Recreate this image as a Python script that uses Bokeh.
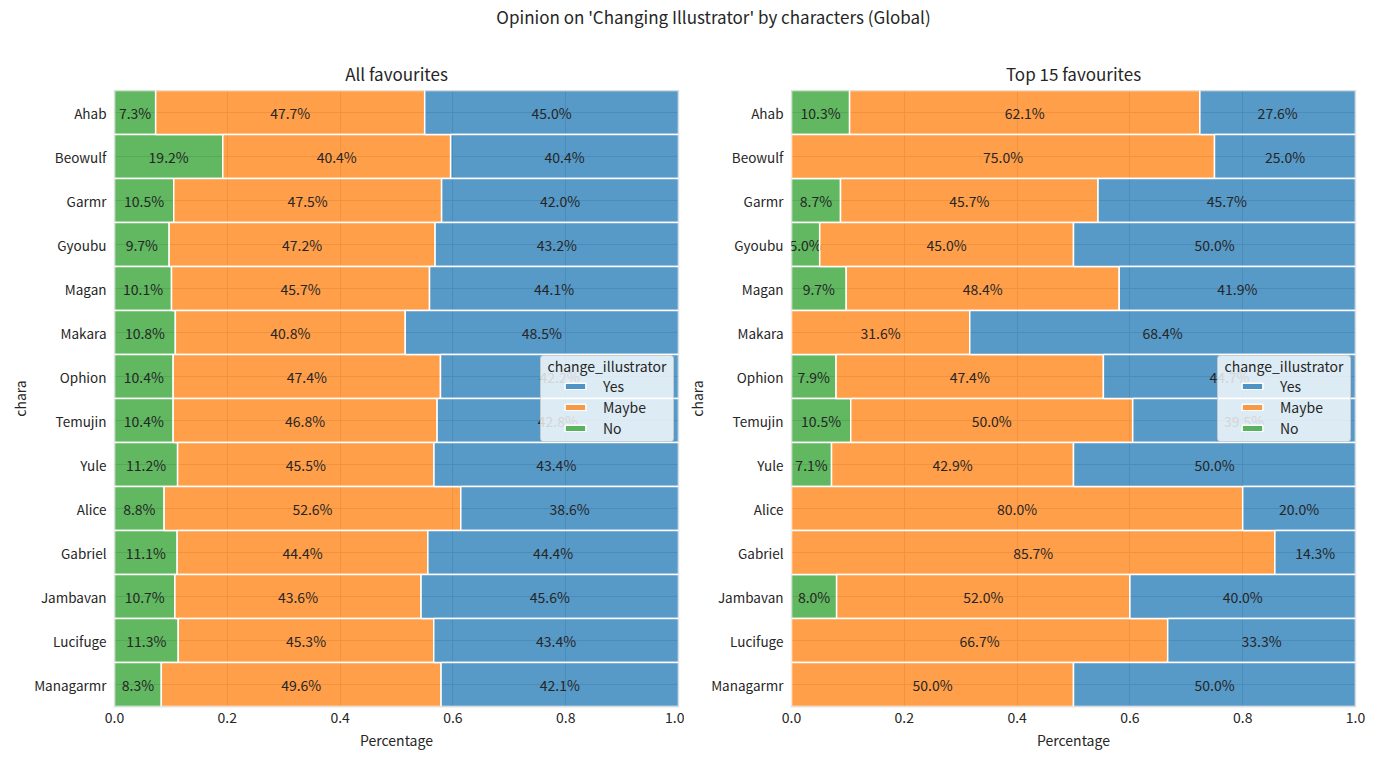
from bokeh.plotting import figure
from bokeh.models import (Div, Legend, LegendItem, ColumnDataSource, FactorRange,
                          SingleIntervalTicker, CustomJSTickFormatter, Label, BoxAnnotation)
from bokeh.layouts import column, row
from bokeh.embed import file_html
from bokeh.resources import INLINE
from bokeh.core.properties import value

charas = ["Ahab", "Beowulf", "Garmr", "Gyoubu", "Magan", "Makara", "Ophion", "Temujin",
          "Yule", "Alice", "Gabriel", "Jambavan", "Lucifuge", "Managarmr"]

all_no = [7.3, 19.2, 10.5, 9.7, 10.1, 10.8, 10.4, 10.4, 11.2, 8.8, 11.1, 10.7, 11.3, 8.3]
all_maybe = [47.7, 40.4, 47.5, 47.2, 45.7, 40.8, 47.4, 46.8, 45.5, 52.6, 44.4, 43.6, 45.3, 49.6]
all_yes = [45.0, 40.4, 42.0, 43.2, 44.1, 48.5, 42.2, 42.8, 43.4, 38.6, 44.4, 45.6, 43.4, 42.1]

top_no = [10.3, 0.0, 8.7, 5.0, 9.7, 0.0, 7.9, 10.5, 7.1, 0.0, 0.0, 8.0, 0.0, 0.0]
top_maybe = [62.1, 75.0, 45.7, 45.0, 48.4, 31.6, 47.4, 50.0, 42.9, 80.0, 85.7, 52.0, 66.7, 50.0]
top_yes = [27.6, 25.0, 45.7, 50.0, 41.9, 68.4, 44.7, 39.5, 50.0, 20.0, 14.3, 40.0, 33.3, 50.0]

legend_labels = ["Yes", "Maybe", "No"]

FONT = "Noto Sans CJK JP"
TXT = "#262626"
COLORS = {"Yes": "#1f77b4", "Maybe": "#ff7f0e", "No": "#2ca02c"}


def make_panel(title, no, maybe, yes, left_border, right_border):
    p = figure(y_range=FactorRange(*reversed(charas)), x_range=(0, 1),
               frame_width=564, frame_height=616, output_backend="svg", toolbar_location=None,
               min_border_left=left_border, min_border_right=right_border,
               min_border_top=52, min_border_bottom=50, title=title)
    p.y_range.range_padding = 0
    p.title.text_font = FONT
    p.title.text_font_size = "17px"
    p.title.text_font_style = "normal"
    p.title.text_color = TXT
    p.title.align = "center"

    tot = [a + b + c for a, b, c in zip(no, maybe, yes)]
    n = [a / t for a, t in zip(no, tot)]
    m = [b / t for b, t in zip(maybe, tot)]
    y = [c / t for c, t in zip(yes, tot)]
    l0 = [0.0] * len(charas)
    l1 = n
    l2 = [a + b for a, b in zip(n, m)]
    r2 = [a + b for a, b in zip(l2, y)]

    renderers = {}
    for key, left, right, vals in [("No", l0, l1, no), ("Maybe", l1, l2, maybe), ("Yes", l2, r2, yes)]:
        src = ColumnDataSource(dict(chara=charas, left=left, right=right,
                                    mid=[(a + b) / 2 for a, b in zip(left, right)],
                                    lab=["%.1f%%" % v if v > 0 else "" for v in vals]))
        renderers[key] = p.hbar(y="chara", left="left", right="right", height=1.0, source=src,
                                fill_color=COLORS[key], fill_alpha=0.75,
                                line_color="white", line_width=1.5)
        p.text(x="mid", y="chara", text="lab", source=src, text_align="center",
               text_baseline="middle", text_font=value(FONT), text_font_size="14px",
               text_color=TXT)

    p.xaxis.ticker = SingleIntervalTicker(interval=0.2)
    p.xaxis.formatter = CustomJSTickFormatter(code="return tick.toFixed(1);")
    for ax in (p.xaxis[0], p.yaxis[0]):
        ax.axis_line_color = None
        ax.major_tick_line_color = None
        ax.minor_tick_line_color = None
        ax.major_tick_out = 0
        ax.major_tick_in = 0
        ax.minor_tick_out = 0
        ax.minor_tick_in = 0
        ax.major_label_text_font = FONT
        ax.major_label_text_font_size = "14px"
        ax.major_label_text_color = TXT
        ax.axis_label_text_font = FONT
        ax.axis_label_text_font_size = "14px"
        ax.axis_label_text_font_style = "normal"
        ax.axis_label_text_color = TXT
    p.yaxis.major_label_text_font_size = "13.5px"
    p.xaxis.major_label_standoff = 5
    p.xaxis.axis_label_standoff = 4
    p.yaxis.major_label_standoff = 8
    p.yaxis.axis_label_standoff = 1
    p.xaxis.axis_label = "Percentage"
    p.yaxis.axis_label = "chara"
    p.xgrid.grid_line_color = "#cccccc"
    p.ygrid.grid_line_color = "#cccccc"
    p.outline_line_color = "#cccccc"
    p.outline_line_width = 1.25

    # legend background box and title
    p.add_layout(BoxAnnotation(left=426, right=559, bottom=265, top=351,
                               left_units="screen", right_units="screen",
                               bottom_units="screen", top_units="screen",
                               fill_color="white", fill_alpha=0.8,
                               line_color="#cccccc", line_alpha=0.8, line_width=1,
                               border_radius=3))
    p.add_layout(Label(x=433, y=341, x_units="screen", y_units="screen",
                       text="change_illustrator", text_font=FONT, text_font_size="14px",
                       text_color=TXT, text_baseline="middle", text_align="left"))

    legend = Legend(items=[LegendItem(label=lab, renderers=[renderers[lab]]) for lab in legend_labels],
                    location=(448, 268))
    legend.label_text_font = FONT
    legend.label_text_font_size = "14px"
    legend.label_text_color = TXT
    legend.background_fill_alpha = 0
    legend.border_line_color = None
    legend.glyph_height = 8
    legend.glyph_width = 26
    legend.label_height = 21
    legend.label_standoff = 15
    legend.spacing = 0
    legend.padding = 0
    legend.margin = 0
    p.add_layout(legend)
    return p


p1 = make_panel("All favourites", all_no, all_maybe, all_yes, 114, 6)
p2 = make_panel("Top 15 favourites", top_no, top_maybe, top_yes, 106, 19)

title = Div(text="Opinion on 'Changing Illustrator' by characters (Global)",
            width=1373, height=38, margin=(0, 0, 0, 0),
            styles={"width": "1373px", "box-sizing": "border-box", "text-align": "center",
                    "padding-left": "54px", "padding-top": "8px", "line-height": "18px",
                    "font-size": "17px", "font-family": FONT, "color": TXT})

layout = column(title, row(p1, p2))
open("out.html", "w").write(file_html(layout, INLINE))
